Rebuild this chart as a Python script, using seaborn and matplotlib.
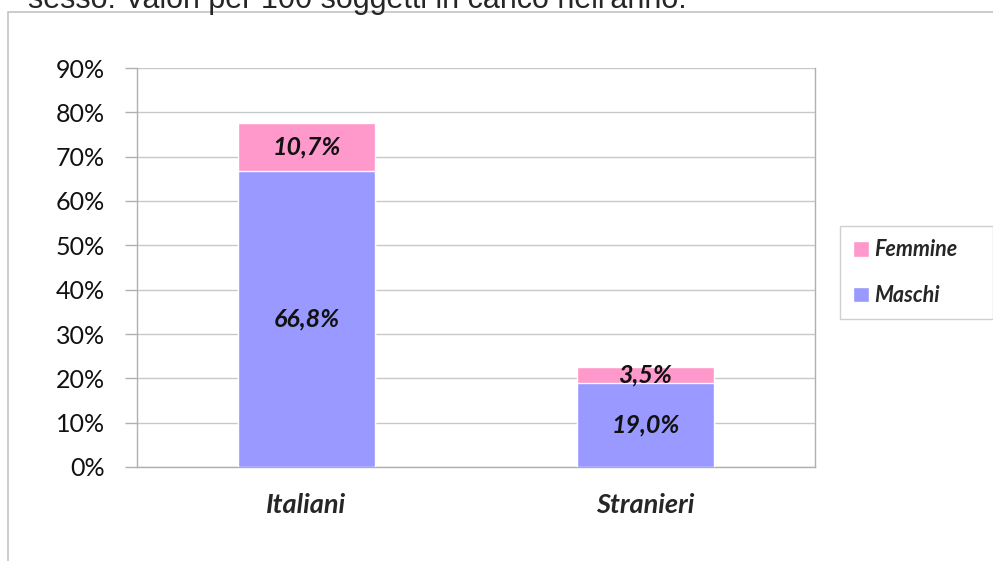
import numpy as np
import matplotlib.pyplot as plt
import seaborn as sns
import pandas as pd
from matplotlib.patches import Rectangle

categorie = ["Italiani", "Stranieri"]
maschi = [66.8, 19.0]
femmine = [10.7, 3.5]
etichette_m = ["66,8%", "19,0%"]
etichette_f = ["10,7%", "3,5%"]
yticks = [0, 10, 20, 30, 40, 50, 60, 70, 80, 90]

sns.set_style("white")
plt.rcParams['font.family'] = ['Lato', 'DejaVu Sans']

df = pd.DataFrame({"cat": categorie,
                   "m": maschi,
                   "tot": [a + b for a, b in zip(maschi, femmine)]})

fig = plt.figure(figsize=(9.93, 5.61), dpi=100)
ax = fig.add_axes([137/993, 1 - 467/561, (815-137)/993, (467-68)/561])

# cornice esterna
fig.patches.append(Rectangle((8/993, -0.01), 1.0, 1 - 12/561 + 0.01,
                             transform=fig.transFigure, fill=False,
                             edgecolor="#c4c4c4", lw=1.2, zorder=0))

sns.barplot(data=df, x="cat", y="tot", color="#FF99CC", width=0.407,
            saturation=1, ax=ax, label="Femmine", zorder=3)
sns.barplot(data=df, x="cat", y="m", color="#9999FF", width=0.407,
            saturation=1, ax=ax, label="Maschi", zorder=3)

for i in range(len(categorie)):
    ax.text(i, maschi[i] / 2, etichette_m[i], ha="center", va="center",
            fontsize=18, fontweight="bold", fontstyle="italic", color="#111111", zorder=5)
    ax.text(i, maschi[i] + femmine[i] / 2, etichette_f[i], ha="center", va="center",
            fontsize=18, fontweight="bold", fontstyle="italic", color="#111111", zorder=5)

ax.set_xlim(-0.5, 1.5)
ax.set_ylim(0, 90)
ax.set_yticks(yticks)
ax.set_yticklabels([f"{v}%" for v in yticks], fontsize=18, color="#111111")
ax.yaxis.grid(True, color="#c8c8c8", lw=1)
ax.set_axisbelow(True)
ax.set_xticks([0, 1])
ax.set_xticklabels(categorie, fontsize=19.5, fontweight="bold", fontstyle="italic")
ax.set_xticks([-0.5, 0.5, 1.5], minor=True)
ax.tick_params(axis="x", which="major", length=0, pad=19)
ax.tick_params(axis="x", which="minor", length=11, color="#b0b0b0", width=1)
ax.tick_params(axis="y", length=9, color="#b0b0b0", width=1, pad=14, left=True)
ax.set_xlabel("")
ax.set_ylabel("")
for s in ["left", "bottom", "right"]:
    ax.spines[s].set_color("#b0b0b0")
    ax.spines[s].set_linewidth(1)
ax.spines["top"].set_visible(False)

handles, labels = ax.get_legend_handles_labels()
if ax.get_legend() is not None:
    ax.get_legend().remove()
leg = fig.legend(handles, labels, loc="upper left",
                 bbox_to_anchor=(840/993, 1 - 227/561, 153/993, 0.001),
                 mode="expand", frameon=True,
                 prop={"size": 15.5, "weight": "bold", "style": "italic"},
                 handlelength=0.75, handleheight=0.75, handletextpad=0.25,
                 labelspacing=1.15, borderpad=0.6, borderaxespad=0,
                 fancybox=False)
leg.get_frame().set_edgecolor("#c4c4c4")
leg.get_frame().set_linewidth(1)

fig.text(28/993, 1 - 8/561, "sesso. Valori per 100 soggetti in carico nell'anno.",
         fontsize=22, family=["Liberation Sans", "DejaVu Sans"], va="baseline", ha="left")

fig.savefig("out.png", dpi=100)
